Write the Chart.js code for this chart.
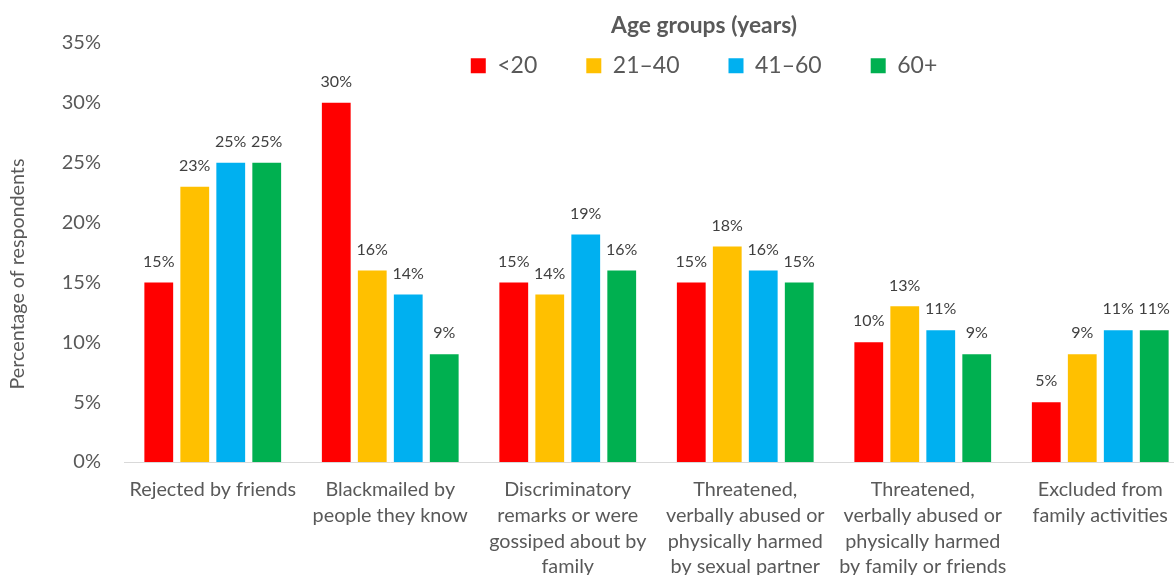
<!DOCTYPE html>
<html>
<head>
<meta charset="utf-8">
<script src="https://cdn.jsdelivr.net/npm/chart.js@4/dist/chart.umd.min.js"></script>
<style>
  html, body { margin: 0; padding: 0; background: #fff; overflow: hidden; }
  #wrap { width: 1189px; height: 575px; position: relative; }
</style>
</head>
<body>
<div id="wrap"><canvas id="chart"></canvas></div>
<script>
const categories = [
  ['Rejected by friends'],
  ['Blackmailed by', 'people they know'],
  ['Discriminatory', 'remarks or were', 'gossiped about by', 'family'],
  ['Threatened,', 'verbally abused or', 'physically harmed', 'by sexual partner'],
  ['Threatened,', 'verbally abused or', 'physically harmed', 'by family or friends'],
  ['Excluded from', 'family activities']
]
const ageGroups = ['<20', '21–40', '41–60', '60+']
const under20 = [15, 30, 15, 15, 10, 5]
const age21to40 = [23, 16, 14, 18, 13, 9]
const age41to60 = [25, 14, 19, 16, 11, 11]
const over60 = [25, 9, 16, 15, 9, 11]
const groupColors = ['#FF0000', '#FFC000', '#00B0F0', '#00B050']
const yMax = 35
const yStep = 5

const FONT = 'Lato, "Noto Sans", sans-serif'
const TEXT = '#595959'

// percentage printed above each bar
const valueLabels = {
  id: 'valueLabels',
  afterDatasetsDraw(chart) {
    const ctx = chart.ctx
    ctx.save()
    ctx.font = '16px ' + FONT
    ctx.fillStyle = '#404040'
    ctx.textAlign = 'center'
    ctx.textBaseline = 'middle'
    chart.data.datasets.forEach((ds, i) => {
      chart.getDatasetMeta(i).data.forEach((bar, j) => {
        ctx.fillText(ds.data[j] + '%', bar.x, bar.y - 21)
      })
    })
    ctx.restore()
  }
}

// legend floats over the top of the plot, a bit right of centre;
// it takes no room in the layout, so give it a real box here before drawing
const legendPlacement = {
  id: 'legendPlacement',
  afterLayout(chart) {
    const lg = chart.legend
    const w = lg.width
    lg.left = 704 - w / 2
    lg.right = lg.left + w
    lg.top = 14
    lg.height = 75
    lg.bottom = lg.top + lg.height
  }
}

// vertical axis caption
const yCaption = {
  id: 'yCaption',
  afterDraw(chart) {
    const ctx = chart.ctx
    ctx.save()
    ctx.translate(18, 274)
    ctx.rotate(-Math.PI / 2)
    ctx.font = '19.7px ' + FONT
    ctx.fillStyle = TEXT
    ctx.textAlign = 'center'
    ctx.textBaseline = 'middle'
    ctx.fillText('Percentage of respondents', 0, 0)
    ctx.restore()
  }
}

const seriesValues = [under20, age21to40, age41to60, over60]

const chart = new Chart(document.getElementById('chart'), {
  type: 'bar',
  data: {
    labels: categories,
    datasets: ageGroups.map((name, i) => ({
      label: name,
      data: seriesValues[i],
      backgroundColor: groupColors[i],
      categoryPercentage: 0.811,
      barPercentage: 0.8
    }))
  },
  options: {
    responsive: true,
    maintainAspectRatio: false,
    animation: false,
    layout: { padding: { top: 42, left: 0, right: 0, bottom: 0 } },
    plugins: {
      tooltip: { enabled: false },
      legend: {
        position: 'top',
        align: 'center',
        maxHeight: 1,
        labels: {
          boxWidth: 15,
          boxHeight: 15,
          padding: 49,
          color: TEXT,
          font: { family: FONT, size: 23 }
        },
        title: {
          display: true,
          text: 'Age groups (years)',
          color: TEXT,
          font: { family: FONT, size: 22.8, weight: 'bold' },
          padding: { top: 0, bottom: -36 }
        }
      }
    },
    scales: {
      x: {
        grid: { display: false },
        border: { display: true, color: '#D9D9D9', width: 1 },
        ticks: {
          color: TEXT,
          font: { family: FONT, size: 19.8, lineHeight: 1.3 },
          padding: 7,
          maxRotation: 0,
          autoSkip: false
        },
        afterFit(scale) { scale.height = 113 }
      },
      y: {
        min: 0,
        max: yMax,
        grid: { display: false, drawTicks: false },
        border: { display: false },
        ticks: {
          stepSize: yStep,
          color: TEXT,
          font: { family: FONT, size: 20 },
          padding: 23,
          callback: v => v + '%'
        },
        afterFit(scale) { scale.width = 124 }
      }
    }
  },
  plugins: [valueLabels, legendPlacement, yCaption]
})
</script>
</body>
</html>
